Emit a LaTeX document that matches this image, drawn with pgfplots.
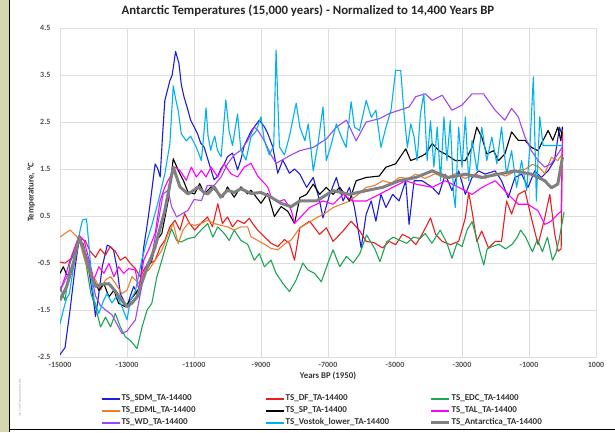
\documentclass[border=0pt]{standalone}
\usepackage{pgfplots}
\pgfplotsset{compat=1.18}
\usepackage{fontspec}
\setmainfont{Carlito}
\definecolor{cSDM}{RGB}{30,30,215}
\definecolor{cDF}{RGB}{235,30,30}
\definecolor{cEDC}{RGB}{30,165,85}
\definecolor{cEDML}{RGB}{237,125,49}
\definecolor{cSP}{RGB}{0,0,0}
\definecolor{cTAL}{RGB}{255,0,255}
\definecolor{cWD}{RGB}{160,70,240}
\definecolor{cVOS}{RGB}{0,176,240}
\definecolor{cANT}{RGB}{128,128,128}
\definecolor{khaki}{RGB}{214,214,176}
\definecolor{gridc}{RGB}{222,222,222}
\definecolor{tickc}{RGB}{80,80,80}
\newcommand{\legbox}[1]{\makebox[142.5pt][l]{#1}}
\begin{document}
\begin{tikzpicture}
\useasboundingbox (0,0) rectangle (615pt,432pt);
\fill[white] (0,0) rectangle (615pt,432pt);
\fill[khaki] (0,0) rectangle (8.5pt,432pt);
\draw[black,line width=1.6pt] (9.5pt,0) -- (9.5pt,432pt);
\draw[black,line width=1.6pt] (9.5pt,2.5pt) -- (615pt,2.5pt);
\node[rotate=90,font=\fontsize{3.5}{4}\selectfont,text=gray!70,anchor=west] at (20pt,12pt) {Ice Core Temperatures.xlsx};
\node[font=\fontsize{12.8}{14}\selectfont\bfseries,text=black!85] at (308pt,421pt) {Antarctic Temperatures (15,000 years) - Normalized to 14,400 Years BP};
\begin{axis}[
  at={(60pt,75pt)}, anchor=south west,
  scale only axis, width=536pt, height=329pt,
  xmin=-15000, xmax=1000, ymin=-2.5, ymax=4.5,
  xtick={-15000,-13000,...,1000},
  ytick={-2.5,-1.5,...,4.5},
  grid=major, major grid style={gridc, line width=0.6pt},
  axis line style={gridc, line width=0.6pt},
  major tick length=0pt,
  tick label style={font=\fontsize{8}{9}\selectfont\bfseries, text=tickc},
  /pgf/number format/assume math mode=true,
  xticklabel style={/pgf/number format/set thousands separator={}, yshift=-2pt},
  yticklabel style={/pgf/number format/fixed, /pgf/number format/fixed zerofill, /pgf/number format/precision=1, xshift=-6pt},
  scaled ticks=false,
  xlabel={Years BP (1950)}, ylabel={Temperature, °C},
  label style={font=\fontsize{8.8}{10}\selectfont\bfseries, text=black!80},
  xlabel style={yshift=3pt},
  ylabel style={yshift=-4pt},
  clip=true,
  every axis plot/.append style={line width=1.1pt, line join=round},
  legend columns=3, legend cell align=left,
  legend image code/.code={\draw[#1] (0pt,0pt) -- (18pt,0pt);},
  legend image post style={line width=1.6pt},
  legend style={at={(0.076,-0.108)}, anchor=north west, draw=none, fill=none, inner sep=0pt,
    font=\fontsize{9}{10}\selectfont\bfseries,
    nodes={inner xsep=1pt, inner ysep=1.75pt, text height=6.5pt, text depth=2pt, text=black!80}},
]
\addplot[cSDM] coordinates {(-15000,-2.45)(-14850,-2.3)(-14700,-1.5)(-14550,-0.6)(-14430,0.0)(-14300,-0.1)(-14150,-0.6)(-14000,-1.3)(-13940,-1.64)(-13850,-1.2)(-13740,-0.58)(-13590,-0.12)(-13500,-0.15)(-13400,-0.23)(-13300,-0.6)(-13200,-1.15)(-13100,-1.3)(-13000,-1.43)(-12900,-1.2)(-12800,-1.0)(-12650,-1.22)(-12500,-0.16)(-12400,0.3)(-12310,0.76)(-12160,1.61)(-12080,1.5)(-12010,1.33)(-11940,2.2)(-11870,2.96)(-11720,3.38)(-11650,3.5)(-11550,4.0)(-11450,3.75)(-11380,3.3)(-11300,3.04)(-11200,2.8)(-11100,2.54)(-10900,2.26)(-10800,2.05)(-10700,1.97)(-10550,1.62)(-10400,1.27)(-10300,1.34)(-10200,1.5)(-10100,1.6)(-10000,1.76)(-9850,1.84)(-9700,1.48)(-9600,1.7)(-9500,2.0)(-9300,2.3)(-9050,2.54)(-8900,2.4)(-8800,2.26)(-8650,1.97)(-8500,1.41)(-8350,1.69)(-8150,1.41)(-8000,1.5)(-7840,1.39)(-7640,1.11)(-7440,1.32)(-7250,0.82)(-7150,0.46)(-6950,0.96)(-6750,1.32)(-6550,0.82)(-6360,1.11)(-6210,0.68)(-6010,-0.18)(-5860,0.54)(-5710,0.82)(-5570,0.39)(-5420,0.96)(-5270,0.68)(-5070,0.96)(-4880,0.82)(-4680,1.25)(-4580,0.32)(-4430,1.25)(-4190,1.25)(-3890,1.11)(-3690,0.96)(-3500,1.39)(-3300,1.04)(-3100,1.46)(-2900,0.96)(-2700,1.32)(-2500,1.46)(-2310,1.39)(-2010,1.46)(-1820,1.25)(-1620,0.89)(-1420,1.32)(-1220,1.39)(-1030,1.11)(-830,1.46)(-630,1.32)(-430,1.46)(-240,1.68)(-90,2.39)(0,2.2)};
\addlegendentry{\legbox{TS\_SDM\_TA-14400}}
\addplot[cDF] coordinates {(-15000,-0.48)(-14850,-0.5)(-14650,-0.4)(-14430,0.02)(-14250,-0.02)(-14100,-0.25)(-13940,-0.38)(-13800,-0.2)(-13640,-0.33)(-13500,-0.15)(-13350,-0.25)(-13200,-0.44)(-13050,-0.37)(-12900,-0.51)(-12750,-0.62)(-12600,-0.8)(-12450,-0.58)(-12310,-0.51)(-12160,-0.44)(-12010,-0.16)(-11870,-0.02)(-11720,0.27)(-11570,0.41)(-11420,0.2)(-11280,0.55)(-11130,0.34)(-10980,0.2)(-10800,0.34)(-10600,0.48)(-10450,0.27)(-10290,0.76)(-10150,0.34)(-10000,0.48)(-9850,0.27)(-9700,0.41)(-9500,0.34)(-9350,0.45)(-9250,0.34)(-9100,0.2)(-8900,0.06)(-8700,-0.08)(-8500,-0.15)(-8300,0.0)(-8150,-0.08)(-8000,-0.44)(-7840,0.25)(-7550,0.39)(-7250,0.11)(-7050,0.25)(-6850,-0.04)(-6550,0.18)(-6310,0.39)(-6050,0.18)(-5860,-0.04)(-5620,-0.07)(-5370,-0.18)(-5170,-0.04)(-4980,-0.11)(-4780,0.11)(-4580,0.04)(-4380,-0.11)(-4190,0.11)(-3940,0.46)(-3790,0.11)(-3590,-0.04)(-3350,-0.11)(-3100,-0.04)(-2900,0.46)(-2800,1.0)(-2700,0.6)(-2560,-0.04)(-2410,0.18)(-2210,-0.18)(-2010,-0.04)(-1820,-0.04)(-1670,0.82)(-1520,0.54)(-1320,0.96)(-1120,1.04)(-930,0.46)(-730,-0.11)(-530,0.46)(-380,0.96)(-230,0.11)(-130,-0.25)(-40,-0.2)(0,2.3)};
\addlegendentry{\legbox{TS\_DF\_TA-14400}}
\addplot[cEDC] coordinates {(-15000,-1.0)(-14850,-1.3)(-14700,-0.5)(-14430,0.02)(-14250,-0.4)(-14080,-1.15)(-13940,-1.43)(-13790,-1.86)(-13640,-1.65)(-13490,-1.86)(-13350,-1.57)(-13200,-1.86)(-13050,-2.07)(-12900,-2.15)(-12700,-2.32)(-12550,-1.86)(-12400,-1.5)(-12260,-1.36)(-12110,-0.8)(-11960,-0.44)(-11820,-0.09)(-11670,0.23)(-11520,-0.02)(-11380,-0.05)(-11180,0.02)(-10980,0.05)(-10790,0.2)(-10590,0.34)(-10440,0.05)(-10290,0.27)(-10100,0.13)(-9950,-0.02)(-9800,0.2)(-9600,-0.02)(-9400,-0.1)(-9200,-0.44)(-9050,-0.3)(-8900,-0.58)(-8700,-0.44)(-8550,-0.72)(-8350,-0.93)(-8150,-1.11)(-7950,-0.86)(-7750,-0.5)(-7600,-0.65)(-7400,-0.72)(-7200,-0.9)(-7000,-0.5)(-6850,-0.22)(-6650,-0.58)(-6450,-0.36)(-6250,-0.5)(-6050,-0.3)(-5850,0.1)(-5600,-0.2)(-5450,-0.47)(-5250,-0.05)(-5050,0.05)(-4850,-0.02)(-4650,-0.08)(-4450,0.05)(-4250,0.02)(-4100,0.13)(-3900,-0.08)(-3650,0.2)(-3450,-0.08)(-3300,-0.4)(-3150,-0.08)(-3000,-0.15)(-2850,0.2)(-2700,0.38)(-2550,0.0)(-2450,-0.3)(-2350,-0.54)(-2250,-0.2)(-2100,-0.15)(-1900,-0.1)(-1700,-0.2)(-1500,-0.1)(-1350,0.05)(-1250,0.2)(-1100,0.05)(-900,-0.26)(-750,0.0)(-600,-0.26)(-450,0.05)(-300,-0.44)(-200,-0.3)(-100,0.0)(0,0.4)(50,0.59)};
\addlegendentry{TS\_EDC\_TA-14400}
\addplot[cEDML] coordinates {(-15000,0.05)(-14850,0.13)(-14700,0.2)(-14550,0.1)(-14430,0.0)(-14280,-0.4)(-14130,-0.72)(-13940,-0.86)(-13790,-1.08)(-13640,-0.86)(-13490,-0.79)(-13350,-0.93)(-13150,-1.15)(-13000,-1.08)(-12850,-0.79)(-12650,-0.93)(-12500,-0.72)(-12350,-0.65)(-12160,-0.44)(-11960,-0.23)(-11770,0.13)(-11620,0.34)(-11470,-0.09)(-11330,0.2)(-11180,0.34)(-10980,0.3)(-10790,0.34)(-10590,0.41)(-10400,0.34)(-10190,0.3)(-10000,0.27)(-9800,0.2)(-9600,0.27)(-9400,0.27)(-9300,0.06)(-9100,-0.02)(-8900,-0.1)(-8700,-0.19)(-8500,-0.22)(-8300,-0.1)(-8100,-0.01)(-7840,0.25)(-7600,0.35)(-7350,0.46)(-7100,0.55)(-6850,0.68)(-6600,0.75)(-6350,0.82)(-6100,0.96)(-5860,1.11)(-5600,1.15)(-5370,1.25)(-5100,1.2)(-4870,1.32)(-4600,1.3)(-4380,1.39)(-4100,1.3)(-3800,1.4)(-3500,1.3)(-3200,1.4)(-2900,1.3)(-2600,1.4)(-2300,1.3)(-2000,1.42)(-1700,1.35)(-1400,1.45)(-1100,1.5)(-900,1.6)(-700,1.54)(-530,1.4)(-330,1.75)(-140,1.68)(0,1.83)};
\addlegendentry{\legbox{TS\_EDML\_TA-14400}}
\addplot[cSP] coordinates {(-15000,-0.72)(-14900,-0.58)(-14800,-0.75)(-14650,-0.72)(-14430,-0.02)(-14230,-0.3)(-14030,-0.8)(-13840,-1.08)(-13690,-0.94)(-13540,-1.22)(-13390,-1.08)(-13250,-1.36)(-13050,-1.43)(-12900,-1.29)(-12750,-1.15)(-12600,-1.0)(-12460,-0.72)(-12260,-0.44)(-12110,-0.02)(-11960,0.13)(-11770,0.83)(-11620,1.72)(-11470,1.47)(-11320,1.26)(-11180,1.01)(-10980,0.97)(-10830,1.19)(-10690,0.97)(-10490,1.12)(-10300,1.01)(-10140,0.9)(-10000,1.12)(-9800,0.9)(-9600,1.12)(-9400,0.97)(-9300,1.05)(-9000,0.77)(-8800,0.98)(-8600,0.49)(-8400,0.7)(-8200,0.6)(-8000,0.34)(-7840,0.89)(-7640,0.96)(-7440,1.18)(-7250,0.96)(-7050,1.11)(-6850,0.96)(-6650,1.11)(-6360,0.82)(-6160,1.25)(-5860,1.32)(-5470,1.35)(-5270,1.54)(-4980,1.61)(-4680,1.93)(-4530,1.68)(-4280,1.75)(-4090,1.82)(-3890,2.04)(-3690,1.89)(-3500,1.82)(-3200,1.68)(-2900,1.68)(-2700,1.96)(-2560,2.39)(-2410,2.18)(-2260,1.82)(-2060,1.89)(-1910,1.68)(-1720,1.82)(-1520,2.29)(-1320,2.11)(-1120,2.11)(-930,1.96)(-730,1.89)(-630,2.04)(-430,2.32)(-290,2.11)(-140,2.39)(-50,2.1)(0,2.4)};
\addlegendentry{\legbox{TS\_SP\_TA-14400}}
\addplot[cTAL] coordinates {(-15000,-1.1)(-14850,-0.8)(-14700,-0.44)(-14430,0.09)(-14280,-0.02)(-14130,-0.44)(-13990,-0.86)(-13840,-0.58)(-13690,-0.72)(-13540,-0.51)(-13390,-0.79)(-13250,-0.58)(-13100,-0.72)(-12950,-0.62)(-12750,-0.65)(-12650,-1.08)(-12500,-0.44)(-12360,-0.23)(-12160,0.13)(-12010,0.83)(-11870,1.12)(-11720,1.33)(-11570,1.54)(-11420,1.47)(-11230,1.26)(-11080,1.54)(-10930,1.33)(-10780,1.47)(-10640,1.33)(-10490,1.54)(-10290,1.33)(-10100,1.61)(-9900,1.4)(-9700,1.33)(-9500,1.54)(-9300,1.62)(-9100,1.35)(-8800,1.12)(-8700,0.91)(-8500,0.8)(-8300,0.85)(-8100,0.63)(-8000,0.34)(-7840,0.46)(-7550,0.68)(-7150,0.82)(-6850,0.75)(-6550,0.96)(-6260,0.82)(-5860,0.82)(-5470,0.96)(-5070,1.11)(-4680,1.25)(-4380,1.18)(-3890,1.11)(-3500,1.25)(-3100,1.11)(-2700,0.96)(-2400,1.11)(-2010,1.25)(-1620,0.96)(-1320,0.75)(-1030,0.75)(-730,0.61)(-530,0.32)(-340,0.39)(-140,0.54)(-40,0.6)(0,2.2)};
\addlegendentry{TS\_TAL\_TA-14400}
\addplot[cWD] coordinates {(-15000,-1.1)(-14800,-0.8)(-14600,-0.5)(-14430,0.05)(-14300,-0.2)(-14130,-0.5)(-13940,-1.2)(-13800,-1.4)(-13640,-1.5)(-13450,-1.6)(-13300,-1.8)(-13150,-2.0)(-13000,-1.95)(-12850,-1.8)(-12750,-1.71)(-12600,-1.15)(-12450,-0.6)(-12250,-0.3)(-12060,0.41)(-11920,0.97)(-11770,1.05)(-11670,0.7)(-11520,0.48)(-11350,0.55)(-11180,0.62)(-11000,0.85)(-10780,0.83)(-10600,1.15)(-10400,1.15)(-10190,1.33)(-10000,1.61)(-9800,1.8)(-9600,1.9)(-9400,2.1)(-9200,2.39)(-9100,2.33)(-8900,2.1)(-8700,1.8)(-8550,1.62)(-8350,1.7)(-8100,1.8)(-7840,1.89)(-7440,1.96)(-7050,2.14)(-6750,2.39)(-6450,2.54)(-6160,2.1)(-5860,2.5)(-5470,2.57)(-5170,2.68)(-4880,2.75)(-4580,2.82)(-4380,3.04)(-4090,3.1)(-3890,2.96)(-3590,3.07)(-3300,2.75)(-3000,2.86)(-2700,3.1)(-2360,3.1)(-2010,2.75)(-1720,2.54)(-1520,2.79)(-1320,2.61)(-1120,2.18)(-930,1.89)(-730,1.68)(-530,1.54)(-340,1.61)(-140,1.82)(0,1.97)};
\addlegendentry{\legbox{TS\_WD\_TA-14400}}
\addplot[cVOS] coordinates {(-15000,-1.8)(-14900,-1.5)(-14800,-1.25)(-14720,-1.15)(-14600,-0.6)(-14480,-0.16)(-14400,0.2)(-14330,0.41)(-14210,0.44)(-14130,-0.16)(-14050,-0.9)(-13980,-1.29)(-13840,-1.57)(-13700,-1.3)(-13600,-1.15)(-13450,-1.35)(-13300,-1.2)(-13150,-1.43)(-13000,-1.71)(-12900,-1.3)(-12750,-1.1)(-12560,-0.44)(-12400,-0.02)(-12260,0.3)(-12060,0.83)(-11870,1.4)(-11720,2.04)(-11620,3.27)(-11550,3.0)(-11470,2.74)(-11380,2.25)(-11230,2.1)(-11100,2.2)(-10930,1.96)(-10780,1.68)(-10700,2.3)(-10640,2.8)(-10580,2.2)(-10500,1.9)(-10450,2.05)(-10380,2.2)(-10300,1.9)(-10190,1.76)(-10050,2.97)(-9950,2.3)(-9850,2.0)(-9700,2.67)(-9600,1.9)(-9450,1.69)(-9300,2.18)(-9150,2.3)(-9000,2.61)(-8900,2.1)(-8750,1.8)(-8620,2.0)(-8550,4.03)(-8450,1.97)(-8300,1.8)(-8150,2.2)(-7950,2.9)(-7840,2.39)(-7690,2.1)(-7590,2.46)(-7440,1.46)(-7300,2.03)(-7150,2.82)(-7050,1.68)(-6900,2.03)(-6750,2.46)(-6600,2.18)(-6460,1.96)(-6310,2.93)(-6210,2.39)(-6060,2.32)(-5860,2.96)(-5710,2.6)(-5570,2.75)(-5420,1.96)(-5270,2.39)(-5120,2.75)(-4980,3.6)(-4830,3.6)(-4730,2.68)(-4630,1.96)(-4530,2.46)(-4430,2.18)(-4340,1.68)(-4240,2.68)(-4140,3.1)(-4040,1.68)(-3940,2.53)(-3840,1.54)(-3740,2.39)(-3640,1.25)(-3540,2.61)(-3450,1.68)(-3350,2.53)(-3250,0.96)(-3200,0.68)(-3100,2.39)(-3000,1.54)(-2900,2.61)(-2800,1.25)(-2700,2.11)(-2550,1.46)(-2410,2.39)(-2260,1.68)(-2110,2.18)(-1960,1.61)(-1820,2.39)(-1670,1.39)(-1520,1.89)(-1370,1.11)(-1220,1.68)(-1070,1.04)(-970,2.03)(-870,3.46)(-780,0.82)(-680,2.61)(-580,2.0)(-480,2.0)(-330,2.0)(0,2.0)};
\addlegendentry{\legbox{TS\_Vostok\_lower\_TA-14400}}
\addplot[cANT, line width=3pt, legend image post style={line width=3.5pt}] coordinates {(-15000,-1.29)(-14800,-1.0)(-14600,-0.5)(-14430,0.05)(-14300,-0.2)(-14150,-0.6)(-13940,-1.0)(-13750,-0.95)(-13540,-0.94)(-13350,-1.1)(-13150,-1.3)(-13000,-1.43)(-12850,-1.35)(-12700,-1.22)(-12460,-0.72)(-12160,-0.16)(-11870,0.62)(-11620,1.54)(-11420,1.12)(-11180,0.97)(-11000,1.05)(-10880,1.12)(-10700,1.0)(-10590,0.97)(-10400,1.12)(-10200,0.9)(-10000,1.05)(-9800,1.0)(-9600,1.08)(-9300,0.98)(-9000,1.0)(-8700,0.9)(-8400,0.77)(-8100,0.7)(-7840,0.82)(-7340,0.82)(-6850,1.04)(-6360,0.96)(-5860,1.04)(-5370,1.11)(-4870,1.25)(-4380,1.32)(-3890,1.46)(-3400,1.32)(-2900,1.39)(-2410,1.32)(-1910,1.39)(-1420,1.46)(-930,1.39)(-530,1.25)(-330,1.1)(-140,1.18)(0,1.75)};
\addlegendentry{TS\_Antarctica\_TA-14400}
\end{axis}
\end{tikzpicture}
\end{document}
